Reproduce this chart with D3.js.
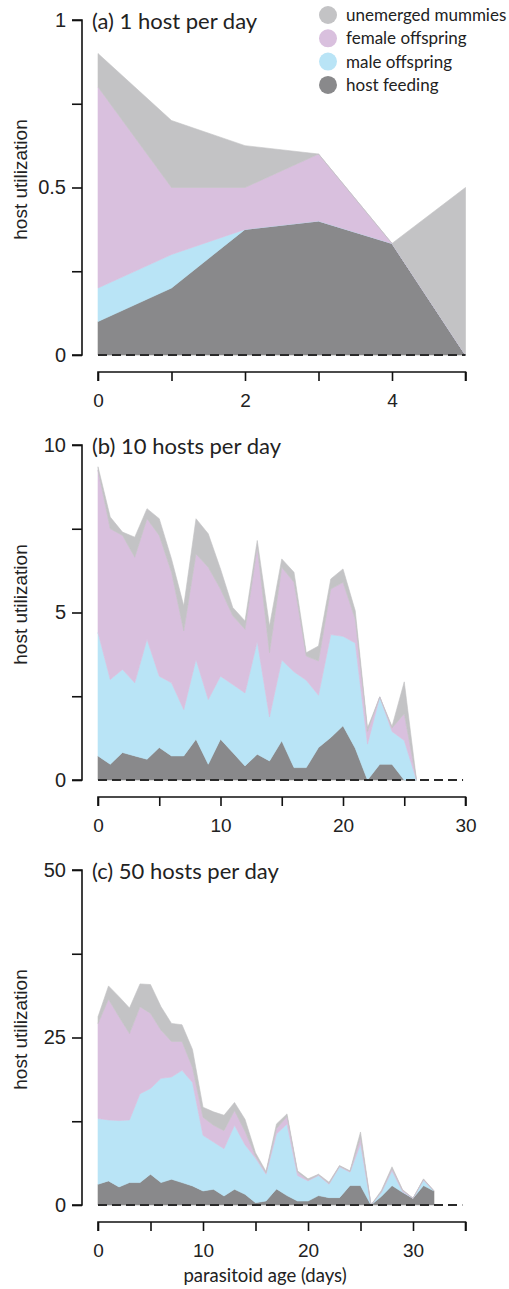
<!DOCTYPE html>
<html><head><meta charset="utf-8">
<script src="https://cdn.jsdelivr.net/npm/d3@7"></script>
<style>body{margin:0;background:#fff}svg{display:block}</style>
</head><body>
<svg id="chart" width="509" height="1289"></svg>
<script>
// ---------- data ----------
const seriesKeys = ["hostFeeding", "male", "female", "unemerged"];
const legendLabels = ["unemerged mummies", "female offspring", "male offspring", "host feeding"];
const legendKeys = ["unemerged", "female", "male", "hostFeeding"];
const colors = {hostFeeding: "#89898b", male: "#b9e4f6", female: "#d9c0de", unemerged: "#c3c3c5"};

// (a) 1 host per day
const daysA = [0, 1, 2, 3, 4, 5];
const hostFeedingA = [0.1, 0.2, 0.375, 0.4, 0.333, 0];
const maleA = [0.1, 0.1, 0, 0, 0, 0];
const femaleA = [0.6, 0.2, 0.125, 0.2, 0, 0];
const unemergedA = [0.1, 0.2, 0.125, 0, 0, 0.5];

// (b) 10 hosts per day
const daysB = d3.range(0, 27);
const hostFeedingB = [0.72,0.47,0.82,0.72,0.62,0.97,0.72,0.72,1.22,0.47,1.22,0.82,0.42,0.77,0.57,1.17,0.37,0.37,0.97,1.27,1.62,0.95,0,0.47,0.47,0,0];
const maleB = [3.68,2.53,2.48,2.18,3.58,2.13,2.18,1.38,2.38,1.93,1.88,2.03,2.18,3.37,1.31,2.41,2.86,2.61,1.56,3.07,2.67,3.14,1.07,2.01,0.98,1.18,0];
const femaleB = [4.85,4.5,4.0,3.75,3.6,4.2,3.3,2.35,3.15,3.95,2.6,2.05,1.9,2.81,1.92,2.77,2.67,0.72,1.02,1.36,1.61,0.71,0.38,0,0.1,0.8,0];
const unemergedB = [0.1,0.35,0.1,0.6,0.3,0.5,0.4,0.75,1.05,1.0,0.6,0.25,0.25,0.2,0.8,0.25,0.3,0.1,0.45,0.3,0.4,0.25,0.1,0,0.05,0.95,0];

// (c) 50 hosts per day
const daysC = d3.range(0, 33);
const hostFeedingC = [3.1,3.6,2.7,3.35,3.35,4.6,3.35,3.85,3.35,2.85,2.1,2.35,1.35,2.35,1.6,0.35,0.6,2.4,1.4,0.6,0.6,1.4,1.1,1.1,2.9,2.9,0,1.3,2.9,1.9,1.0,2.9,2.1];
const maleC = [9.8,9.1,9.9,9.35,13.25,12.8,15.55,15.25,16.75,15.45,8.3,7.05,7.05,9.55,7.4,6.65,4.0,8.2,10.7,3.8,3.0,3.0,2.0,4.6,2.0,6.2,0,0.6,2.2,0.1,0,0.8,0];
const femaleC = [14.2,18.0,15.5,12.9,13.0,11.2,7.2,5.3,4.3,2.2,2.7,2.5,2.7,2.2,2.0,0.3,0.2,0.8,1.1,0.5,0.1,0.1,0.1,0.1,0.1,0.9,0,0.1,0.3,0.2,0,0.1,0];
const unemergedC = [1.0,2.0,3.0,3.8,3.4,4.3,3.5,2.7,2.5,2.7,1.5,2.0,2.3,1.2,1.8,0.5,0.2,0.7,0.4,0.2,0.2,0.1,0.2,0.1,0.1,0.9,0,0.2,0.3,0.1,0,0.1,0];

// axis ticks
const yTicksA = [0, 0.25, 0.5, 0.75, 1], yLabelsA = [0, 0.5, 1];
const xTicksA = [0, 1, 2, 3, 4, 5], xLabelsA = [0, 2, 4];
const yTicksB = [0, 2.5, 5, 7.5, 10], yLabelsB = [0, 5, 10];
const xTicksB = [0, 5, 10, 15, 20, 25, 30], xLabelsB = [0, 10, 20, 30];
const yTicksC = [0, 12.5, 25, 37.5, 50], yLabelsC = [0, 25, 50];
const xTicksC = [0, 5, 10, 15, 20, 25, 30, 35], xLabelsC = [0, 10, 20, 30];

const panels = [
  {title: "(a) 1 host per day", days: daysA, hostFeeding: hostFeedingA, male: maleA, female: femaleA, unemerged: unemergedA,
   yMax: 1, xMax: 5, dashMax: 5, yTicks: yTicksA, yLabels: yLabelsA, xTicks: xTicksA, xLabels: xLabelsA, top: 20, legend: true},
  {title: "(b) 10 hosts per day", days: daysB, hostFeeding: hostFeedingB, male: maleB, female: femaleB, unemerged: unemergedB,
   yMax: 10, xMax: 30, dashMax: 29.8, yTicks: yTicksB, yLabels: yLabelsB, xTicks: xTicksB, xLabels: xLabelsB, top: 445},
  {title: "(c) 50 hosts per day", days: daysC, hostFeeding: hostFeedingC, male: maleC, female: femaleC, unemerged: unemergedC,
   yMax: 50, xMax: 35, dashMax: 34.7, yTicks: yTicksC, yLabels: yLabelsC, xTicks: xTicksC, xLabels: xLabelsC, top: 870, xTitle: "parasitoid age (days)"}
];

// ---------- drawing ----------
const svg = d3.select("#chart");
const axisFont = "Arial, 'Liberation Sans', sans-serif";
const textFont = "Lato, 'Open Sans', sans-serif";
const xLeft = 98, xRight = 465.5, yAxisX = 82, plotH = 335;

panels.forEach(p => {
  const g = svg.append("g");
  const x = d3.scaleLinear().domain([0, p.xMax]).range([xLeft, xRight]);
  const y = d3.scaleLinear().domain([0, p.yMax]).range([p.top + plotH, p.top]);
  const rows = p.days.map((d, i) => ({day: d, hostFeeding: p.hostFeeding[i], male: p.male[i], female: p.female[i], unemerged: p.unemerged[i]}));
  const stacked = d3.stack().keys(seriesKeys)(rows);
  const area = d3.area().x(d => x(d.data.day)).y0(d => y(d[0])).y1(d => y(d[1]));
  g.selectAll("path.layer").data(stacked).join("path")
    .attr("class", "layer")
    .attr("d", area)
    .attr("fill", d => colors[d.key])
    .attr("stroke", d => colors[d.key]).attr("stroke-width", 0.6);

  // dashed zero line
  g.append("path")
    .attr("d", d3.line().x(d => x(d)).y(() => y(0))([0, p.dashMax]))
    .attr("stroke", "#2a2a2a").attr("stroke-width", 2).attr("stroke-dasharray", "9,5").attr("fill", "none");

  // y axis
  const yAxis = d3.axisLeft(y).tickValues(p.yTicks).tickSize(10).tickPadding(6)
    .tickFormat(v => p.yLabels.includes(v) ? d3.format("~g")(v) : "");
  const ya = g.append("g").attr("transform", `translate(${yAxisX},0)`).call(yAxis);
  ya.attr("font-family", null).attr("font-size", null);
  ya.select(".domain").attr("d", `M-10,${y(p.yMax)}H0V${y(0)}H-10`).attr("stroke", "#111").attr("stroke-width", 1.6);
  ya.selectAll(".tick line").attr("stroke", "#111").attr("stroke-width", 1.6);
  ya.selectAll(".tick text").style("font-family", axisFont).style("font-size", "20px").attr("fill", "#222");

  // x axis
  const axisY = p.top + plotH + 17;
  const xAxis = d3.axisBottom(x).tickValues(p.xTicks).tickSize(9).tickPadding(13)
    .tickFormat(v => p.xLabels.includes(v) ? d3.format("~g")(v) : "");
  const xa = g.append("g").attr("transform", `translate(0,${axisY})`).call(xAxis);
  xa.attr("font-family", null).attr("font-size", null);
  xa.select(".domain").attr("d", `M${xLeft},9V0H${xRight}V9`).attr("stroke", "#111").attr("stroke-width", 1.6);
  xa.selectAll(".tick line").attr("stroke", "#111").attr("stroke-width", 1.6);
  xa.selectAll(".tick text").style("font-family", axisFont).style("font-size", "19px").attr("fill", "#222");

  // y title
  g.append("text")
    .attr("transform", `translate(27,${p.top + plotH / 2 - 8}) rotate(-90)`)
    .attr("text-anchor", "middle")
    .style("font-family", axisFont).style("font-size", "19px").attr("fill", "#222")
    .text("host utilization");

  // panel title
  g.append("text").attr("x", 92).attr("y", p.top + 9)
    .style("font-family", textFont).style("font-size", "22px").attr("fill", "#222")
    .text(p.title);

  if (p.xTitle) {
    g.append("text").attr("x", 265).attr("y", axisY + 60).attr("text-anchor", "middle")
      .style("font-family", textFont).style("font-size", "18.5px").attr("fill", "#222")
      .text(p.xTitle);
  }

  if (p.legend) {
    const lg = g.append("g");
    legendKeys.forEach((k, i) => {
      const cy = 15 + i * 23.3;
      lg.append("circle").attr("cx", 328).attr("cy", cy).attr("r", 9).attr("fill", colors[k]);
      lg.append("text").attr("x", 346).attr("y", cy).attr("dy", "0.35em")
        .style("font-family", textFont).style("font-size", "17px").attr("fill", "#222")
        .text(legendLabels[i]);
    });
  }
});
</script>
</body></html>
